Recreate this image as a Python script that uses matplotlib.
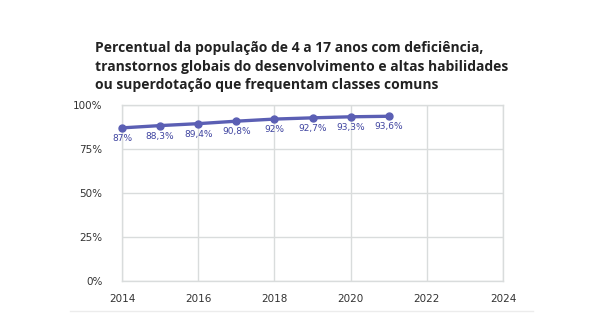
import matplotlib
matplotlib.use("Agg")
import matplotlib.pyplot as plt
from matplotlib.lines import Line2D

years = [2014, 2015, 2016, 2017, 2018, 2019, 2020, 2021]
values = [87, 88.3, 89.4, 90.8, 92, 92.7, 93.3, 93.6]
value_labels = ["87%", "88,3%", "89,4%", "90,8%", "92%", "92,7%", "93,3%", "93,6%"]
x_ticks = [2014, 2016, 2018, 2020, 2022, 2024]
y_ticks = [0, 25, 50, 75, 100]
y_tick_labels = ["0%", "25%", "50%", "75%", "100%"]
title = ("Percentual da população de 4 a 17 anos com deficiência,\n"
         "transtornos globais do desenvolvimento e altas habilidades\n"
         "ou superdotação que frequentam classes comuns")

line_color = "#5b5fb4"
label_color = "#3f44a0"
grid_color = "#d9dcdc"

fig = plt.figure(figsize=(6.02, 3.33), dpi=100)
fig.patch.set_facecolor("white")
ax = fig.add_axes([122 / 602, 1 - 281 / 333, (503 - 122) / 602, (281 - 105) / 333])

ax.plot(years, values, color=line_color, linewidth=2.4, marker="o",
        markersize=5, solid_capstyle="round", zorder=3, clip_on=False)
for x, v, lab in zip(years, values, value_labels):
    ax.annotate(lab, (x, v), xytext=(0, -7.5), textcoords="offset points",
                ha="center", va="center", fontsize=6.5, color=label_color,
                family="DejaVu Sans")

ax.set_xlim(2014, 2024)
ax.set_ylim(0, 100)
ax.set_xticks(x_ticks)
ax.set_xticklabels([str(t) for t in x_ticks])
ax.set_yticks(y_ticks)
ax.set_yticklabels(y_tick_labels)
ax.grid(True, color=grid_color, linewidth=1)
ax.set_axisbelow(True)
for s in ax.spines.values():
    s.set_color(grid_color)
    s.set_linewidth(1)
ax.tick_params(length=0, labelsize=7.5, colors="#333333", pad=4)
ax.tick_params(axis="y", pad=14)
ax.tick_params(axis="x", pad=9)

fig.text(95 / 602, 1 - 41 / 333, title, ha="left", va="top", fontsize=10,
         fontweight="bold", color="#222222", family="Open Sans", linespacing=1.42)

fig.add_artist(Line2D([70 / 602, 533 / 602], [1 - 311 / 333, 1 - 311 / 333],
                      color="#ececec", linewidth=1))

fig.savefig("out.png", dpi=100, facecolor="white")
